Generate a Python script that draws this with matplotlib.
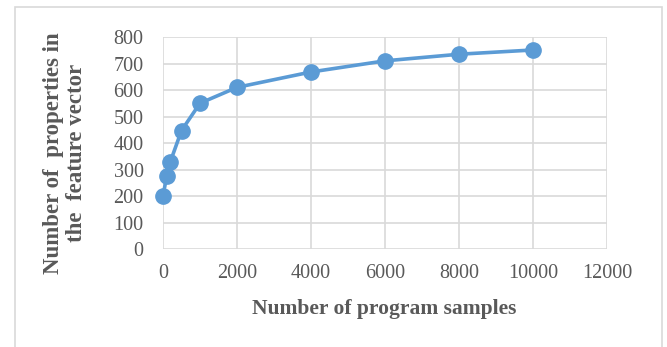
import matplotlib.pyplot as plt
from matplotlib.patches import Rectangle

# data
samples = [0, 100, 200, 500, 1000, 2000, 4000, 6000, 8000, 10000]
properties = [200, 275, 330, 447, 550, 610, 668, 710, 735, 751]
xticks = [0, 2000, 4000, 6000, 8000, 10000, 12000]
yticks = [0, 100, 200, 300, 400, 500, 600, 700, 800]

plt.rcParams['font.family'] = ['Liberation Serif', 'DejaVu Serif']
txt = '#595959'

W, H = 667, 347
fig = plt.figure(figsize=(6.67, 3.47), dpi=100)
ax = fig.add_axes([163/W, 1-249/H, (607-163)/W, (249-37)/H])

# outer chart frame
fig.patches.append(Rectangle((15/W, -0.1), (662-15)/W, 1.1-7/H,
                             transform=fig.transFigure, fill=False,
                             edgecolor='#d9d9d9', lw=1.2))

ax.plot(samples, properties, color='#5b9bd5', lw=2.6, marker='o',
        markersize=11, zorder=3, clip_on=False)

ax.set_xlim(0, 12000)
ax.set_ylim(0, 800)
ax.set_xticks(xticks)
ax.set_yticks(yticks)
ax.grid(True, color='#d9d9d9', lw=1.2)
ax.set_axisbelow(True)
for s in ax.spines.values():
    s.set_visible(False)
ax.tick_params(length=0, labelsize=14.5, labelcolor=txt)
ax.tick_params(axis='x', pad=11)
ax.tick_params(axis='y', pad=14)

fig.text(384/W, 1-309/H, 'Number of program samples', fontsize=15.5,
         fontweight='bold', color=txt, ha='center', va='center')
fig.text(65/W, 1-153/H, 'Number of  properties in\nthe  feature vector',
         fontsize=16.5, fontweight='bold', color=txt, ha='center',
         va='center', rotation=90, linespacing=1.15, multialignment='center')

fig.savefig('out.png', dpi=100)
